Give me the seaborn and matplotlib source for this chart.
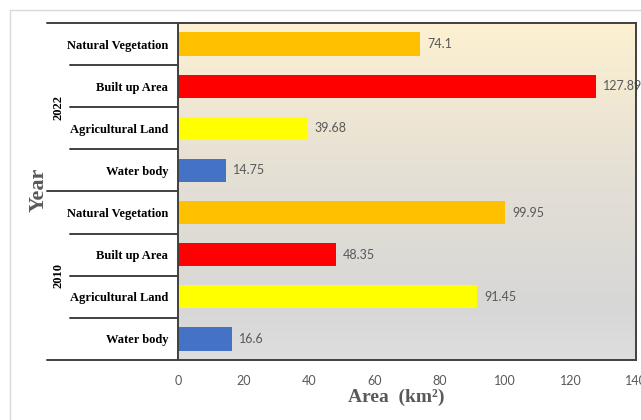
import numpy as np
import pandas as pd
import matplotlib
matplotlib.use("Agg")
import matplotlib.pyplot as plt
import matplotlib.transforms as mtransforms
from matplotlib.colors import LinearSegmentedColormap
from matplotlib.patches import Rectangle
import seaborn as sns

# Land use / land cover areas (km²) per year
years = ["2022", "2022", "2022", "2022", "2010", "2010", "2010", "2010"]
classes = ["Natural Vegetation", "Built up Area", "Agricultural Land", "Water body",
           "Natural Vegetation", "Built up Area", "Agricultural Land", "Water body"]
areas = [74.1, 127.89, 39.68, 14.75, 99.95, 48.35, 91.45, 16.6]

class_colors = {
    "Water body": "#4472C4",
    "Agricultural Land": "#FFFF00",
    "Built up Area": "#FF0000",
    "Natural Vegetation": "#FFC000",
}
x_ticks = [0, 20, 40, 60, 80, 100, 120, 140]

df = pd.DataFrame({"year": years, "cls": classes, "area": areas})
df["key"] = df["year"] + " | " + df["cls"]
order = list(df["key"])

sns.set_theme(style="white")
plt.rcParams["font.family"] = ["Lato", "DejaVu Sans"]

W, H = 641, 420
fig = plt.figure(figsize=(W / 100, H / 100), dpi=100)
fig.patch.set_facecolor("white")

# light outer chart frame
fig.patches.append(Rectangle((10 / W, -0.1), 1.2, 1 - 10 / H + 0.1,
                             transform=fig.transFigure, fill=False,
                             edgecolor="#D9D9D9", linewidth=1.0))

left, right, top, bottom = 178, 636, 23, 360
ax = fig.add_axes([left / W, 1 - bottom / H, (right - left) / W, (bottom - top) / H])

# gradient plot background
grad_cmap = LinearSegmentedColormap.from_list(
    "bg", [(0.0, (0.992, 0.945, 0.820)),
           (0.45, (0.898, 0.878, 0.835)),
           (0.85, (0.843, 0.843, 0.843)),
           (1.0, (0.870, 0.870, 0.870))])
ax.imshow(np.linspace(0, 1, 256).reshape(-1, 1), cmap=grad_cmap, aspect="auto",
          extent=[0, 1, 0, 1], transform=ax.transAxes, origin="upper", zorder=0)

sns.barplot(data=df, x="area", y="key", hue="cls", order=order,
            palette=class_colors, dodge=False, width=0.55, legend=False,
            saturation=1, linewidth=0, ax=ax, zorder=2)

ax.set_xlim(0, 140)
ax.set_ylim(7.5, -0.5)
ax.set_xticks(x_ticks)
ax.set_xticklabels([str(t) for t in x_ticks], color="#595959", fontsize=9)
ax.tick_params(axis="x", length=0, pad=11)
ax.set_yticks(range(len(order)))
ax.set_yticklabels(classes, fontfamily="Liberation Serif", fontweight="bold",
                   fontsize=9, color="black")
ax.tick_params(axis="y", length=0, pad=7)

for s in ax.spines.values():
    s.set_visible(True)
    s.set_color("#404040")
    s.set_linewidth(1.4)
    s.set_zorder(5)

for cont in ax.containers:
    labels = ax.bar_label(cont, labels=[f"{v:g}" for v in cont.datavalues],
                          padding=5, fontsize=9, color="#595959")
    for t in labels:
        t.set_clip_on(True)

# hierarchical category axis: group and item separators
trans = mtransforms.blended_transform_factory(ax.transAxes, ax.transData)
x_outer = (47 - left) / (right - left)
x_inner = (70 - left) / (right - left)
for yb in [-0.5, 3.5, 7.5]:
    ax.plot([x_outer, 0], [yb, yb], transform=trans, color="#404040",
            linewidth=1.4, clip_on=False, zorder=6)
for yb in [0.5, 1.5, 2.5, 4.5, 5.5, 6.5]:
    ax.plot([x_inner, 0], [yb, yb], transform=trans, color="#404040",
            linewidth=1.4, clip_on=False, zorder=6)

x_year = (58 - left) / (right - left)
for yr, yc in [("2022", 1.5), ("2010", 5.5)]:
    ax.text(x_year, yc, yr, transform=trans, rotation=90, ha="center", va="center",
            fontfamily="Liberation Serif", fontweight="bold", fontsize=9, color="black")

ax.set_ylabel("")
ax.set_xlabel("")
fig.text(39 / W, 1 - 190 / H, "Year", rotation=90, ha="center", va="center",
         fontfamily="Liberation Serif", fontweight="bold", fontsize=16, color="#595959")
fig.text(396 / W, 1 - 397 / H, "Area  (km²)", ha="center", va="center",
         fontfamily="Liberation Serif", fontweight="bold", fontsize=14, color="#595959")

fig.savefig("out.png", dpi=100)
